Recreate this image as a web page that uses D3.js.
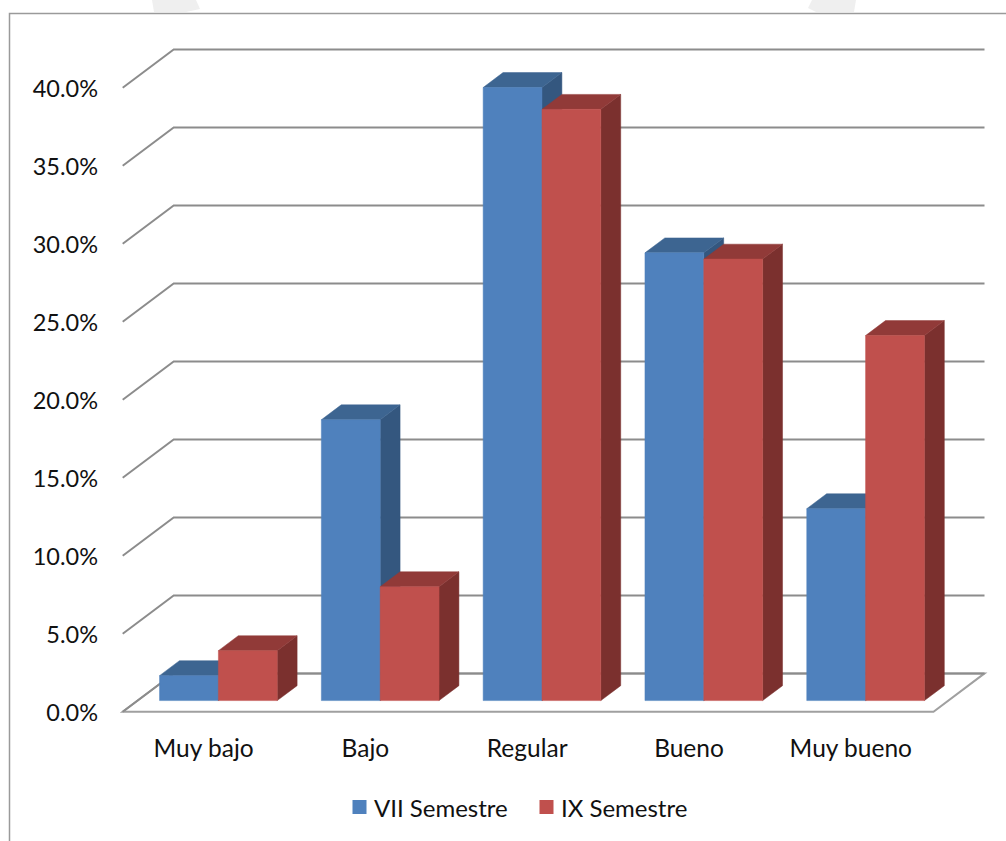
<!DOCTYPE html>
<html>
<head>
<meta charset="utf-8">
<script src="https://cdn.jsdelivr.net/npm/d3@7"></script>
<style>
  html, body { margin: 0; padding: 0; background: #ffffff; }
  svg { display: block; }
  text { font-family: Lato, "Open Sans", sans-serif; fill: #111; }
</style>
</head>
<body>
<svg id="chart" width="1006" height="841"></svg>
<script>
// Categories, series and values (shares of students)
const categories = ["Muy bajo", "Bajo", "Regular", "Bueno", "Muy bueno"];
const seriesNames = ["VII Semestre", "IX Semestre"];
const vii = [0.016, 0.180, 0.393, 0.287, 0.123];
const ix  = [0.032, 0.073, 0.379, 0.283, 0.234];
const tickValues = [0, 0.05, 0.10, 0.15, 0.20, 0.25, 0.30, 0.35, 0.40];

const seriesValues = [vii, ix];
const faceColors = [
  { front: "#4F81BD", top: "#3D6591", side: "#34577F" },
  { front: "#C0504D", top: "#913A38", side: "#7B302E" }
];

const svg = d3.select("#chart");

// Outer frame of the chart area
svg.append("path")
  .attr("d", "M9.5,841 L9.5,13.5 L1006,13.5")
  .attr("fill", "none").attr("stroke", "#9a9a9a").attr("stroke-width", 1.5);
// faint page marks above the frame
svg.append("path").attr("d", "M152,0 L196,0 L200,9 L186,12 L154,12 Z").attr("fill", "#efefef");
svg.append("path").attr("d", "M812,0 L856,0 L854,12 L816,12 L808,8 Z").attr("fill", "#efefef");

// Oblique projection: a point at depth d (0 = front, 1 = back wall)
const depthDX = 51, depthDY = -38.3;
const x = d3.scaleBand().domain(categories).range([122.7, 931.7]).paddingInner(0).paddingOuter(0);
const y = d3.scaleLinear().domain([0, 0.40]).range([711.7, 87.7]);
const P = (px, py, d) => [px + depthDX * d, py + depthDY * d];
const wallLeft = 122.7, wallRight = 933.5;

const gridColor = "#8c8c8c";
const g = svg.append("g");

// Floor
const floorPts = [P(wallLeft, y(0), 0), P(wallRight, y(0), 0), P(wallRight, y(0), 1), P(wallLeft, y(0), 1)];
g.append("path")
  .attr("d", d3.line()(floorPts) + "Z")
  .attr("fill", "#ffffff").attr("stroke", "#a0a0a0").attr("stroke-width", 2);

// Gridlines: side wall diagonal + back wall horizontal
g.selectAll("path.grid").data(tickValues).join("path")
  .attr("class", "grid")
  .attr("d", v => d3.line()([P(wallLeft, y(v), 0), P(wallLeft, y(v), 1), P(wallRight, y(v), 1)]))
  .attr("fill", "none").attr("stroke", gridColor).attr("stroke-width", 2);

// Value axis labels
g.selectAll("text.ytick").data(tickValues).join("text")
  .attr("class", "ytick")
  .attr("x", 98).attr("y", v => y(v))
  .attr("text-anchor", "end").attr("dominant-baseline", "central")
  .attr("font-size", 23.5)
  .text(v => d3.format(".1%")(v));

// Category labels
g.selectAll("text.xtick").data(categories).join("text")
  .attr("class", "xtick")
  .attr("x", c => x(c) + x.bandwidth() / 2).attr("y", 747)
  .attr("text-anchor", "middle").attr("dominant-baseline", "central")
  .attr("font-size", 24.5)
  .text(c => c);

// Bars: placed in a slab between two depths
const dFront = 0.29, dBack = 0.68;
const xs = d3.scaleBand().domain(seriesNames).range([0, x.bandwidth()]).paddingInner(0).paddingOuter(0.375);

const bars = [];
categories.forEach((c, i) => {
  seriesNames.forEach((s, k) => {
    bars.push({ c, s, k, v: seriesValues[k][i] });
  });
});

const barG = g.append("g");
bars.forEach(b => {
  const x0 = x(b.c) + xs(b.s), x1 = x0 + xs.bandwidth();
  const yb = y(0), yt = y(b.v);
  const col = faceColors[b.k];
  const fr = [P(x0, yb, dFront), P(x1, yb, dFront), P(x1, yt, dFront), P(x0, yt, dFront)];
  const top = [P(x0, yt, dFront), P(x1, yt, dFront), P(x1, yt, dBack), P(x0, yt, dBack)];
  const side = [P(x1, yb, dFront), P(x1, yb, dBack), P(x1, yt, dBack), P(x1, yt, dFront)];
  const bg = barG.append("g");
  bg.append("path").attr("d", d3.line()(side) + "Z").attr("fill", col.side)
    .attr("stroke", col.side).attr("stroke-width", 0.5);
  bg.append("path").attr("d", d3.line()(top) + "Z").attr("fill", col.top)
    .attr("stroke", col.top).attr("stroke-width", 0.5);
  bg.append("path").attr("d", d3.line()(fr) + "Z").attr("fill", col.front)
    .attr("stroke", col.front).attr("stroke-width", 0.5);
});

// Legend
const legendX = [352.5, 539.5];
const legend = svg.append("g");
seriesNames.forEach((s, k) => {
  legend.append("rect").attr("x", legendX[k]).attr("y", 800).attr("width", 14).attr("height", 14)
    .attr("fill", faceColors[k].front);
  legend.append("text").attr("x", legendX[k] + 21.5).attr("y", 807.5)
    .attr("dominant-baseline", "central").attr("font-size", 24).text(s);
});
</script>
</body>
</html>
